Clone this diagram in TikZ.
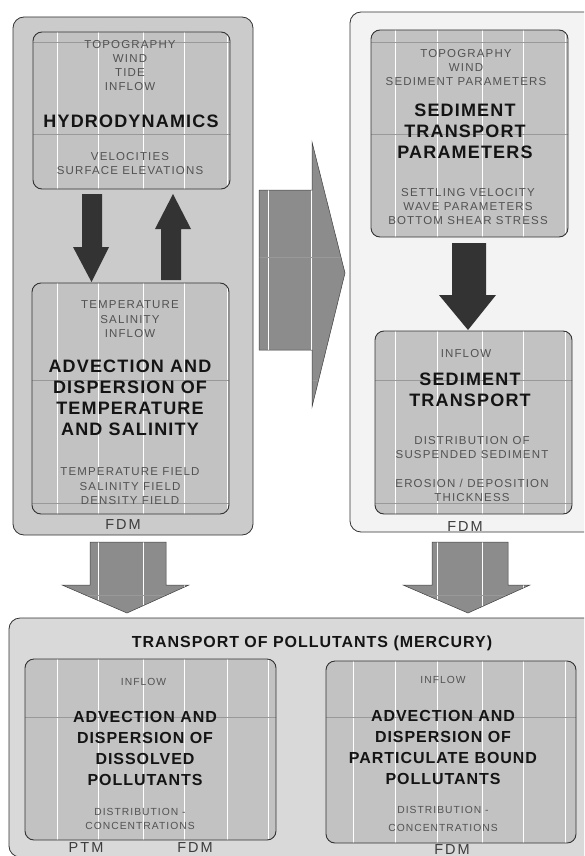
\documentclass[tikz,border=0pt]{standalone}
\usepackage{fontspec}
\setmainfont{Liberation Sans}
\newfontfamily\smf[LetterSpace=10]{Liberation Sans}
\newfontfamily\bdf[LetterSpace=6.5]{Liberation Sans}
\newfontfamily\bdfb[LetterSpace=6]{Liberation Sans}
\newfontfamily\lbf[LetterSpace=14]{Liberation Sans}
\definecolor{cOuterL}{HTML}{CBCBCB}
\definecolor{cOuterR}{HTML}{F3F3F3}
\definecolor{cOuterB}{HTML}{D9D9D9}
\definecolor{cInner}{HTML}{C2C2C2}
\definecolor{cArrow}{HTML}{8C8C8C}
\definecolor{cDark}{HTML}{333333}
\definecolor{cSmall}{HTML}{525252}
\definecolor{cBold}{HTML}{141414}
\definecolor{cMeth}{HTML}{3C3C3C}
\newcommand\seamlines{%
  \foreach \sx in {57,98,143,184,227,268,311,353,395,437,482,523,565}
    \draw[seamv] (\sx,0) -- (\sx,870);
  \foreach \sy in {42,134,257,380,503,595,717}
    \draw[seamh] (0,\sy) -- (600,\sy);
}
\tikzset{
  outerbox/.style={draw=black!80, line width=0.8pt, rounded corners=11pt, inner sep=0pt, outer sep=0pt},
  innerfill/.style={fill=cInner, rounded corners=9pt, inner sep=0pt, outer sep=0pt},
  innerline/.style={draw=black!80, line width=0.9pt, rounded corners=9pt},
  smalltxt/.style={font=\smf\fontsize{11.5}{14.2}\selectfont, text=cSmall, align=center, anchor=north, inner sep=0pt},
  smalltxtb/.style={font=\smf\fontsize{10.3}{14}\selectfont, text=cSmall, align=center, anchor=north, inner sep=0pt},
  boldtxt/.style={font=\bdf\bfseries\fontsize{18}{21}\selectfont, text=cBold, align=center, anchor=north, inner sep=0pt},
  boldtxtb/.style={font=\bdfb\bfseries\fontsize{16}{21}\selectfont, text=cBold, align=center, anchor=north, inner sep=0pt},
  titletxt/.style={font=\bdfb\bfseries\fontsize{16}{19}\selectfont, text=cBold, anchor=base, inner sep=0pt},
  methtxt/.style={font=\lbf\fontsize{14.5}{16}\selectfont, text=cMeth, anchor=base, inner sep=0pt},
  darkarrow/.style={fill=cDark},
  grayarrow/.style={draw=black!75, line width=0.5pt, line join=miter},
  seamv/.style={white, line width=0.9pt},
  seamh/.style={black!40, line width=0.4pt},
}
\begin{document}
\begin{tikzpicture}[x=1pt,y=-1pt]
\useasboundingbox (0,0) rectangle (584,856);
\clip (0,0) rectangle (584,856);
\fill[white] (0,0) rectangle (584,856);

% outer boxes
\node[outerbox, fill=cOuterL, minimum width=240pt, minimum height=518pt] (outL) at (133,276) {};
\node[outerbox, fill=cOuterR, minimum width=250pt, minimum height=520pt] (outR) at (475,272) {};
\node[outerbox, fill=cOuterB, minimum width=591pt, minimum height=239pt] (outB) at (304.5,737.5) {};

% inner boxes (fill)
\node[innerfill, minimum width=197pt, minimum height=157pt] (hyd) at (131.5,110.5) {};
\node[innerfill, minimum width=197pt, minimum height=231pt] (adv) at (130.5,398.5) {};
\node[innerfill, minimum width=197pt, minimum height=207pt] (stp) at (469.5,133.5) {};
\node[innerfill, minimum width=197pt, minimum height=183pt] (sed) at (473.5,422.5) {};
\node[innerfill, minimum width=251pt, minimum height=181pt] (dis) at (150.5,749.5) {};
\node[innerfill, minimum width=250pt, minimum height=182pt] (par) at (451,752) {};

% seams inside inner boxes
\foreach \b in {hyd,adv,stp,sed,dis,par}{
  \begin{scope}
    \clip[rounded corners=9pt] (\b.south west) rectangle (\b.north east);
    \seamlines
  \end{scope}
  \draw[innerline] (\b.south west) rectangle (\b.north east);
}

% dark arrows
\fill[darkarrow] (82,194) -- (102,194) -- (102,247) -- (109,247) -- (91.5,282) -- (73,247) -- (82,247) -- cycle;
\fill[darkarrow] (161,280) -- (181,280) -- (181,229) -- (191,229) -- (173,194) -- (155,229) -- (161,229) -- cycle;
\fill[darkarrow] (452,243) -- (486,243) -- (486,295) -- (496,295) -- (468,330) -- (439,295) -- (452,295) -- cycle;

% gray block arrows
\def\midarrow{(259,190) -- (312,190) -- (312,142) -- (345,273) -- (312,407) -- (312,350) -- (259,350) -- cycle}
\def\blarrow{(90,542) -- (166,542) -- (166,585) -- (189,585) -- (127,613) -- (62,585) -- (90,585) -- cycle}
\def\brarrow{(432,542) -- (508,542) -- (508,585) -- (530,585) -- (468,613) -- (403,585) -- (432,585) -- cycle}
\foreach \p in {\midarrow,\blarrow,\brarrow}{
  \fill[cArrow] \p;
  \begin{scope}
    \clip \p;
    \seamlines
  \end{scope}
  \draw[grayarrow] \p;
}

% texts: hydrodynamics
\node[smalltxt] (h1) at (130,39.8) {TOPOGRAPHY\\WIND\\TIDE\\INFLOW};
\node[boldtxt] (h2) at (131,114.4) {HYDRODYNAMICS};
\node[smalltxt] (h3) at (130,151.8) {VELOCITIES\\SURFACE ELEVATIONS};

% advection T/S
\node[smalltxt] (a1) at (130,300.8) {TEMPERATURE\\SALINITY\\INFLOW};
\node[boldtxt] (a2) at (130,359.4) {ADVECTION AND\\DISPERSION OF\\TEMPERATURE\\AND SALINITY};
\node[smalltxt] (a3) at (130,467.8) {TEMPERATURE FIELD\\SALINITY FIELD\\DENSITY FIELD};
\node[methtxt] (a4) at (123,529.2) {FDM};

% sediment transport parameters
\node[smalltxt] (p1) at (466,48.8) {TOPOGRAPHY\\WIND\\SEDIMENT PARAMETERS};
\node[boldtxt] (p2) at (465,103.4) {SEDIMENT\\TRANSPORT\\PARAMETERS};
\node[smalltxt] (p3) at (468,187.8) {SETTLING VELOCITY\\WAVE PARAMETERS\\BOTTOM SHEAR STRESS};

% sediment transport
\node[smalltxt] (s1) at (466,348.8) {INFLOW};
\node[boldtxt] (s2) at (470,372.4) {SEDIMENT\\TRANSPORT};
\node[smalltxt] (s3) at (472,435.8) {DISTRIBUTION OF\\SUSPENDED SEDIMENT};
\node[smalltxt] (s4) at (472,478.8) {EROSION / DEPOSITION\\THICKNESS};
\node[methtxt] (s5) at (465,531.2) {FDM};

% pollutants
\node[titletxt] (tt) at (312,647.7) {TRANSPORT OF POLLUTANTS (MERCURY)};

\node[smalltxtb] (d1) at (143.5,678.2) {INFLOW};
\node[boldtxtb] (d2) at (145,711.1) {ADVECTION AND\\DISPERSION OF\\DISSOLVED\\POLLUTANTS};
\node[smalltxtb] (d3) at (140,808.2) {DISTRIBUTION -\\CONCENTRATIONS};
\node[methtxt] (d4) at (86,852.2) {PTM};
\node[methtxt] (d5) at (195,852.2) {FDM};

\node[smalltxtb] (q1) at (443,676.2) {INFLOW};
\node[boldtxtb] (q2) at (443,710.1) {ADVECTION AND\\DISPERSION OF\\PARTICULATE BOUND\\POLLUTANTS};
\node[smalltxtb] (q3) at (443,806.2) {DISTRIBUTION -\\[4pt]CONCENTRATIONS};
\node[methtxt] (q4) at (452,854.5) {FDM};
\end{tikzpicture}
\end{document}
